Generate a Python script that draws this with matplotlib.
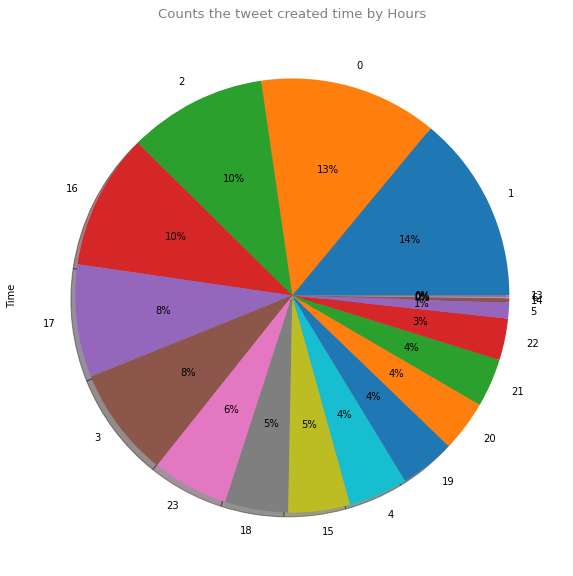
import matplotlib
matplotlib.use('Agg')
import matplotlib.pyplot as plt

# hour of day -> number of tweets (value_counts order)
hours = ['1', '0', '2', '16', '17', '3', '23', '18', '15', '4',
         '19', '20', '21', '22', '5', '14', '6', '13']
counts = [140, 133, 103, 101, 84, 82, 57, 47, 46, 44,
          41, 38, 36, 31, 12, 3, 1, 1]

fig = plt.figure(figsize=(573 / 72, 576 / 72), dpi=72)
ax = fig.add_axes([0.0366, 0.016, 0.947, 0.942])

ax.pie(counts, labels=hours, autopct='%.0f%%', shadow=True,
       textprops={'fontsize': 10})
ax.set_ylabel('Time', fontsize=10)
ax.set_title('Counts the tweet created time by Hours', color='gray', fontsize=13.2)

fig.savefig('out.png', dpi=72)
